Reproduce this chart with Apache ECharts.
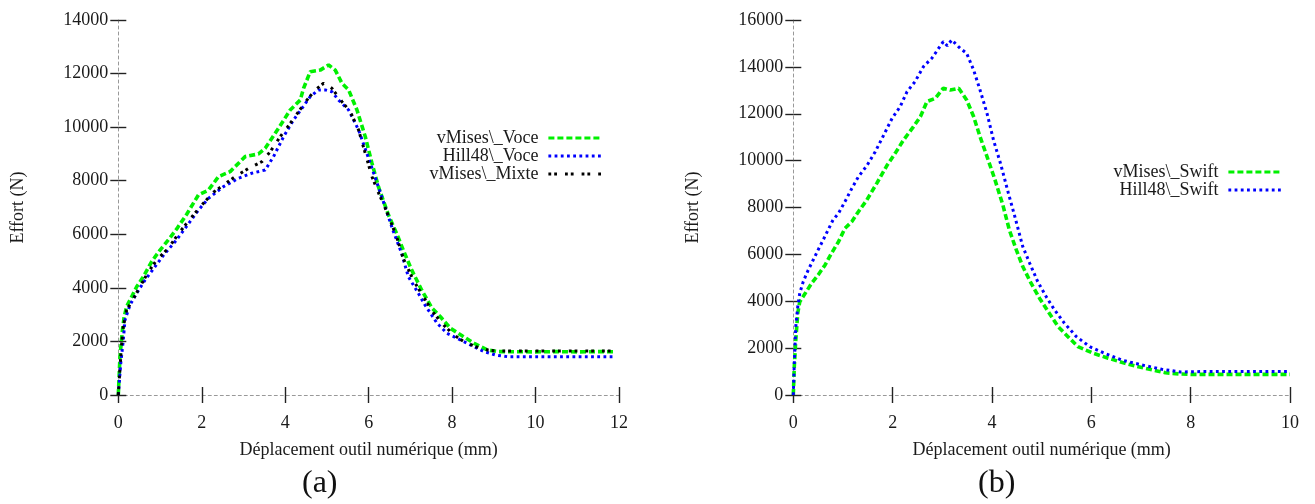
<!DOCTYPE html>
<html>
<head>
<meta charset="utf-8">
<script src="https://cdn.jsdelivr.net/npm/echarts@6/dist/echarts.min.js"></script>
<style>
html,body{margin:0;padding:0;background:#fff;}
#chart{width:1315px;height:504px;}
</style>
</head>
<body>
<div id="chart"></div>
<script>
// ---------- Data (a) ----------
const namesA = ['vMises\\_Voce', 'Hill48\\_Voce', 'vMises\\_Mixte'];
const vmVoceX = [0,0.04,0.10,0.14,0.20,0.32,0.44,0.60,0.80,1.00,1.20,1.40,1.64,1.92,2.16,2.40,2.68,3.04,3.36,3.52,3.84,4.12,4.36,4.44,4.60,4.84,5.04,5.20,5.36,5.52,5.72,5.92,6.08,6.24,6.48,6.67,6.83,7.03,7.27,7.52,7.72,7.96,8.25,8.53,8.85,9.10,9.50,10.00,10.50,11.00,11.50,11.86];
const vmVoceY = [0,1430,2430,2920,3300,3670,4040,4420,4980,5410,5790,6200,6750,7470,7650,8150,8340,8900,9000,9210,9960,10640,11010,11450,12070,12130,12320,12130,11640,11390,10640,9640,8650,7750,6700,6035,5410,4670,3920,3240,2920,2490,2200,1930,1680,1620,1615,1610,1620,1610,1620,1615];
const hillVoceX = [0,0.06,0.12,0.16,0.28,0.44,0.64,0.88,1.12,1.36,1.60,1.92,2.16,2.52,2.88,3.20,3.52,3.72,3.96,4.20,4.40,4.60,4.80,4.96,5.12,5.28,5.52,5.76,6.04,6.34,6.58,6.79,6.95,7.19,7.35,7.64,7.88,8.21,8.53,8.77,9.05,9.33,9.80,10.40,11.00,11.50,11.86];
const hillVoceY = [0,1200,2050,2800,3360,3800,4290,4790,5290,5720,6220,6900,7340,7780,8090,8280,8400,8900,9640,10270,10700,11140,11390,11390,11320,11010,10640,9890,8650,7280,6160,5290,4420,3800,3360,2680,2300,2050,1800,1620,1490,1430,1430,1430,1430,1430,1430];
const vmMixteX = [0,0.04,0.08,0.12,0.20,0.32,0.52,0.72,0.92,1.20,1.48,1.80,2.04,2.28,2.52,2.80,3.12,3.44,3.64,3.88,4.12,4.32,4.52,4.72,4.92,5.12,5.36,5.56,5.76,5.92,6.08,6.25,6.42,6.67,6.83,7.07,7.31,7.56,7.80,8.04,8.29,8.57,8.85,9.10,9.60,10.20,10.80,11.40,11.86];
const vmMixteY = [0,1000,1900,2550,3170,3480,4040,4600,5040,5480,6100,6720,7160,7570,7840,8150,8460,8710,9080,9640,10140,10580,11010,11390,11640,11450,10950,10580,9890,9020,8150,7500,6900,5910,5100,4290,3670,3050,2610,2240,1990,1800,1680,1640,1640,1640,1640,1640,1640];

// ---------- Data (b) ----------
const namesB = ['vMises\\_Swift', 'Hill48\\_Swift'];
const vmSwiftX = [0,0.02,0.05,0.09,0.13,0.24,0.37,0.50,0.64,0.77,0.91,1.04,1.18,1.31,1.48,1.68,1.89,2.05,2.22,2.42,2.56,2.69,2.86,3.02,3.16,3.33,3.49,3.63,3.76,3.90,4.05,4.22,4.35,4.49,4.62,4.79,4.96,5.13,5.33,5.53,5.73,6.04,6.34,6.68,7.08,7.49,7.76,8.00,8.60,9.30,10.00];
const vmSwiftY = [0,1210,2350,3490,3980,4340,4770,5120,5550,6050,6540,7110,7400,7820,8320,9030,9810,10310,10880,11450,11880,12520,12660,13090,13010,13090,12590,11880,11020,10170,9250,8100,7040,6190,5480,4760,4120,3560,2920,2490,2060,1780,1570,1350,1140,950,900,880,880,880,880];
const hillSwiftX = [0,0.02,0.05,0.09,0.13,0.20,0.30,0.40,0.50,0.60,0.70,0.80,0.91,1.04,1.18,1.31,1.48,1.65,1.82,1.99,2.15,2.29,2.45,2.62,2.79,3.02,3.10,3.19,3.36,3.49,3.63,3.76,3.90,4.03,4.17,4.33,4.47,4.62,4.76,4.92,5.09,5.26,5.46,5.70,5.97,6.27,6.61,7.02,7.42,7.80,8.20,8.80,9.40,10.00];
const hillSwiftY = [0,1350,2920,3770,4340,4840,5330,5760,6190,6610,7040,7470,7750,8250,8820,9310,9780,10380,11090,11810,12300,12940,13370,14010,14370,15080,14900,15150,14790,14580,13870,13010,12020,10880,9890,8610,7540,6330,5620,4840,4200,3630,3060,2490,2060,1780,1490,1280,1100,980,1000,1000,1000,1000];

// ---------- Axis ticks ----------
const xMaxA = 12, yMaxA = 14000;
const xMaxB = 10, yMaxB = 16000;
const xStep = 2, yStep = 2000;
const xTitle = 'Déplacement outil numérique (mm)';
const yTitle = 'Effort (N)';

const FONT = 'Liberation Serif';
const TXT = '#1a1a1a';
const TICK = {color: '#222', width: 1.4};
const pairs = (xs, ys) => xs.map((x, i) => [x, ys[i]]);
const plain = v => String(v);

function mainX(grid, max) {
  return {
    type: 'value', gridIndex: grid, position: 'bottom', min: 0, max: max, interval: xStep,
    name: xTitle, nameLocation: 'middle', nameGap: 46,
    nameTextStyle: {fontFamily: FONT, fontSize: 18, color: TXT},
    axisLine: {show: true, onZero: false, lineStyle: {color: '#999', width: 1, type: [3, 3]}},
    axisTick: {show: true, inside: false, length: 8, lineStyle: TICK},
    axisLabel: {fontFamily: FONT, fontSize: 18, color: TXT, margin: 19, formatter: plain},
    splitLine: {show: false}
  };
}
function innerX(grid, max) {
  return {
    type: 'value', gridIndex: grid, position: 'bottom', min: 0, max: max, interval: xStep,
    axisLine: {show: true, onZero: false, lineStyle: {opacity: 0}},
    axisTick: {show: true, inside: true, length: 8, lineStyle: TICK},
    axisLabel: {show: false}, splitLine: {show: false}
  };
}
function mainY(grid, max) {
  return {
    type: 'value', gridIndex: grid, position: 'left', min: 0, max: max, interval: yStep,
    name: yTitle, nameLocation: 'middle', nameGap: 91, nameRotate: 90,
    nameTextStyle: {fontFamily: FONT, fontSize: 18, color: TXT},
    axisLine: {show: true, onZero: false, lineStyle: {color: '#999', width: 1, type: [3, 3]}},
    axisTick: {show: true, inside: false, length: 8, lineStyle: TICK},
    axisLabel: {fontFamily: FONT, fontSize: 18, color: TXT, margin: 10, formatter: plain},
    splitLine: {show: false}
  };
}
function innerY(grid, max) {
  return {
    type: 'value', gridIndex: grid, position: 'left', min: 0, max: max, interval: yStep,
    axisLine: {show: true, onZero: false, lineStyle: {opacity: 0}},
    axisTick: {show: true, inside: true, length: 8, lineStyle: TICK},
    axisLabel: {show: false}, splitLine: {show: false}
  };
}

const styleGreen = {color: '#00f000', width: 3.6, type: [6, 3], cap: 'butt'};
const styleBlue = {color: '#0000ff', width: 3, type: [2.8, 3.4], cap: 'butt'};
const styleBlack = {color: '#000000', width: 3, type: [2.8, 3, 2.8, 8], cap: 'butt'};

function line(name, xs, ys, xi, yi, ls, z) {
  return {
    type: 'line', name: name, xAxisIndex: xi, yAxisIndex: yi,
    data: pairs(xs, ys), showSymbol: false, symbol: 'none',
    lineStyle: ls, itemStyle: {color: ls.color}, animation: false, z: z
  };
}

const legendBase = {
  orient: 'vertical', align: 'right', itemWidth: 53, itemHeight: 12, itemGap: 0, padding: 0,
  itemStyle: {opacity: 0},
  lineStyle: {width: 3.2},
  textStyle: {fontFamily: FONT, fontSize: 18, color: TXT, lineHeight: 18, padding: [0, 5, 0, 0]},
  selectedMode: false
};

const option = {
  backgroundColor: '#ffffff',
  animation: false,
  grid: [
    {left: 118.3, top: 20, width: 500.7, height: 375},
    {left: 793.3, top: 20, width: 496.7, height: 375}
  ],
  xAxis: [mainX(0, xMaxA), innerX(0, xMaxA), mainX(1, xMaxB), innerX(1, xMaxB)],
  yAxis: [mainY(0, yMaxA), innerY(0, yMaxA), mainY(1, yMaxB), innerY(1, yMaxB)],
  legend: [
    Object.assign({}, legendBase, {data: namesA, right: 712, top: 129}),
    Object.assign({}, legendBase, {data: namesB, right: 32, top: 163})
  ],
  series: [
    line(namesA[0], vmVoceX, vmVoceY, 0, 0, styleGreen, 2),
    line(namesA[1], hillVoceX, hillVoceY, 0, 0, styleBlue, 3),
    line(namesA[2], vmMixteX, vmMixteY, 0, 0, styleBlack, 4),
    line(namesB[0], vmSwiftX, vmSwiftY, 2, 2, styleGreen, 2),
    line(namesB[1], hillSwiftX, hillSwiftY, 2, 2, styleBlue, 3)
  ],
  graphic: [
    {type: 'text', left: 302, top: 468, style: {text: '(a)', fontFamily: FONT, fontSize: 32, fill: '#111'}},
    {type: 'text', left: 978, top: 468, style: {text: '(b)', fontFamily: FONT, fontSize: 32, fill: '#111'}}
  ]
};

const chart = echarts.init(document.getElementById('chart'), null, {renderer: 'canvas'});
chart.setOption(option);
</script>
</body>
</html>
